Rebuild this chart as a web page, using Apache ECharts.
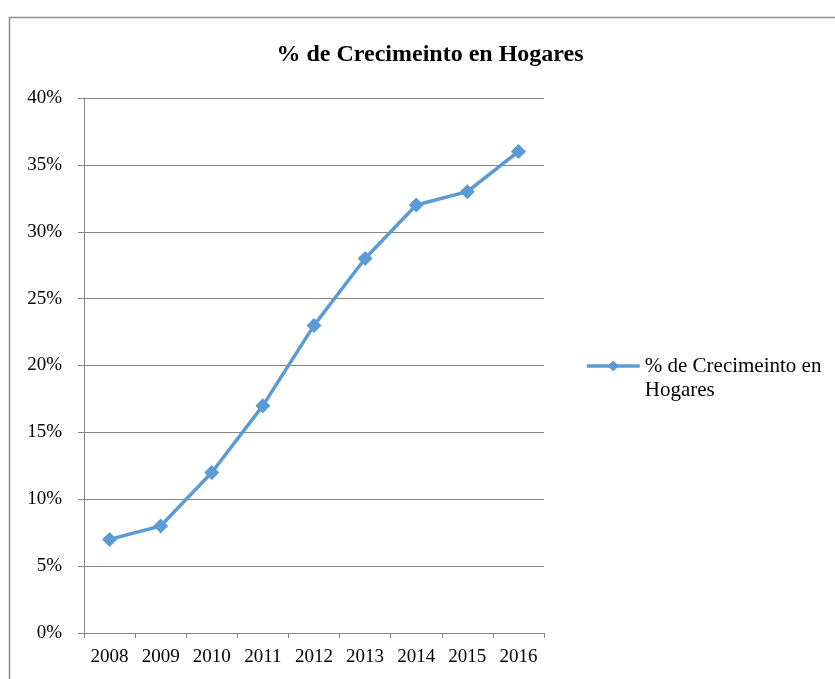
<!DOCTYPE html>
<html>
<head>
<meta charset="utf-8">
<script src="https://cdn.jsdelivr.net/npm/echarts@6/dist/echarts.min.js"></script>
<style>
  html, body { margin: 0; padding: 0; background: #fff; }
  #chart { width: 835px; height: 679px; }
</style>
</head>
<body>
<div id="chart"></div>
<script>
// Household growth by year (percent)
const titleText = '% de Crecimeinto en Hogares';
const seriesName = '% de Crecimeinto en Hogares';
const years = ['2008', '2009', '2010', '2011', '2012', '2013', '2014', '2015', '2016'];
const growth = [7, 8, 12, 17, 23, 28, 32, 33, 36];
const yMin = 0;
const yMax = 40;
const yStep = 5;

const serif = '"Liberation Serif", "DejaVu Serif", serif';
const axisGray = '#868686';
const lineBlue = '#5B9BD5';

const chart = echarts.init(document.getElementById('chart'), null, { renderer: 'canvas' });

chart.setOption({
  backgroundColor: '#ffffff',
  animation: false,
  graphic: [{
    // chart-area frame
    type: 'rect',
    left: 7,
    top: 15,
    shape: { width: 900, height: 720 },
    style: { fill: 'none', stroke: '#8c8c8c', lineWidth: 1.5 },
    silent: true,
    z: -1
  }],
  title: {
    text: titleText,
    left: 425,
    textAlign: 'center',
    top: 38,
    textStyle: {
      fontFamily: serif,
      fontWeight: 'bold',
      fontSize: 24,
      color: '#000'
    }
  },
  legend: {
    left: 585,
    top: 330,
    padding: 0,
    itemWidth: 53,
    itemHeight: 14,
    itemGap: 4,
    selectedMode: false,
    data: [seriesName],
    lineStyle: { width: 3.5 },
    // leading blank line keeps the first text line level with the icon
    formatter: () => '\n% de Crecimeinto en\nHogares',
    textStyle: {
      fontFamily: serif,
      fontSize: 21,
      color: '#000',
      lineHeight: 24
    }
  },
  grid: {
    left: 84,
    top: 98,
    right: 291,
    bottom: 46,
    containLabel: false
  },
  xAxis: {
    type: 'category',
    data: years,
    boundaryGap: true,
    axisLine: { show: true, lineStyle: { color: axisGray, width: 1 } },
    axisTick: { show: true, alignWithLabel: false, length: 5, lineStyle: { color: axisGray } },
    axisLabel: {
      fontFamily: serif,
      fontSize: 19,
      color: '#000',
      margin: 15,
      interval: 0
    },
    splitLine: { show: false }
  },
  yAxis: {
    type: 'value',
    min: yMin,
    max: yMax,
    interval: yStep,
    axisLine: { show: true, lineStyle: { color: axisGray, width: 1 } },
    axisTick: { show: true, length: 6, lineStyle: { color: axisGray } },
    axisLabel: {
      fontFamily: serif,
      fontSize: 19,
      color: '#000',
      margin: 22,
      formatter: '{value}%'
    },
    splitLine: { show: true, lineStyle: { color: axisGray, width: 1 } }
  },
  series: [{
    name: seriesName,
    type: 'line',
    data: growth,
    symbol: 'diamond',
    symbolSize: 15,
    showAllSymbol: true,
    lineStyle: { color: lineBlue, width: 3.5 },
    itemStyle: { color: lineBlue },
    z: 3
  }]
});
</script>
</body>
</html>
